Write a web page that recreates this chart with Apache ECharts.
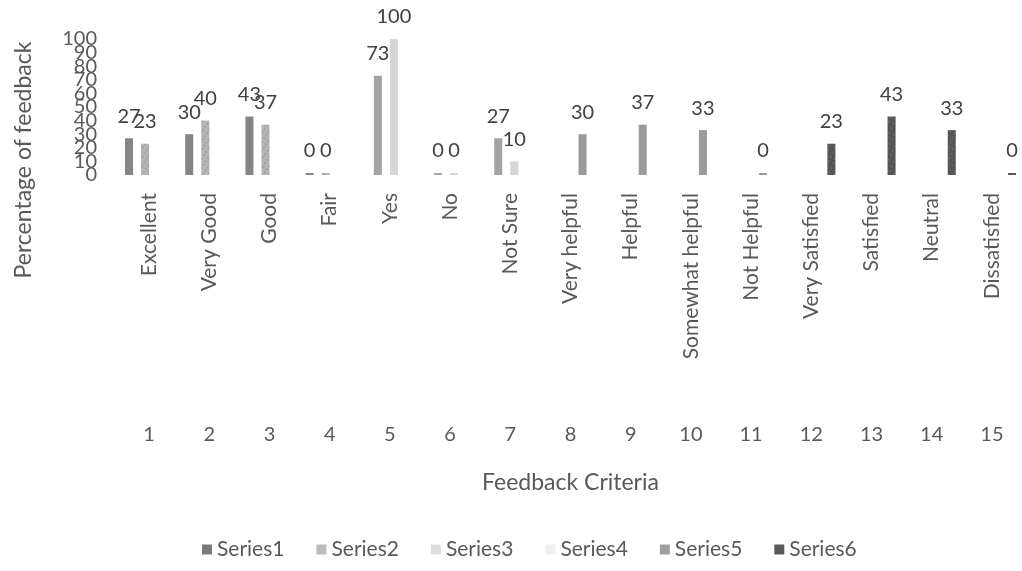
<!DOCTYPE html>
<html>
<head>
<meta charset="utf-8">
<script src="https://cdn.jsdelivr.net/npm/echarts@6/dist/echarts.min.js"></script>
<style>html,body{margin:0;padding:0;background:#fff;}#c{width:1022px;height:571px;}</style>
</head>
<body>
<div id="c"></div>
<script>
const categories = ["Excellent","Very Good","Good","Fair","Yes","No","Not Sure","Very helpful","Helpful","Somewhat helpful","Not Helpful","Very Satisfied","Satisfied","Neutral","Dissatisfied"];
const criteriaNumbers = ["1","2","3","4","5","6","7","8","9","10","11","12","13","14","15"];
const yTicks = {min: 0, max: 100, interval: 10};
const series1 = [27,30,43,0,null,null,null,null,null,null,null,null,null,null,null];
const series2 = [null,null,null,null,73,0,27,null,null,null,null,null,null,null,null];
const series3 = [23,40,37,0,null,null,null,null,null,null,null,null,null,null,null];
const series4 = [null,null,null,null,100,0,10,null,null,null,null,null,null,null,null];
const series5 = [null,null,null,null,null,null,null,30,37,33,0,null,null,null,null];
const series6 = [null,null,null,null,null,null,null,null,null,null,null,23,43,33,0];
const seriesNames = ["Series1","Series2","Series3","Series4","Series5","Series6"];
const seriesData = [series1,series2,series3,series4,series5,series6];

const FONT = 'Lato';
const colors = ['#858585','#a3a3a3','#b5b5b5','#d6d6d6','#9a9a9a','#555555'];
const legendColors = ['#7a7a7a','#bdbdbd','#dedede','#f0f0f0','#9e9e9e','#5a5a5a'];
const decals = [null, null,
  {symbol:'rect', symbolSize:0.5, color:'rgba(40,40,40,0.55)', dashArrayX:[2,3], dashArrayY:[2,2], rotation:0.6},
  null, null,
  {symbol:'rect', symbolSize:0.6, color:'rgba(200,200,200,0.5)', dashArrayX:[2,3], dashArrayY:[2,3], rotation:0.4}];

const yLabelStyle = {margin: 22, fontFamily: FONT, fontSize: 20, color: '#595959'};
const chart = echarts.init(document.getElementById('c'), null, {renderer:'canvas'});
const option = {
  backgroundColor: '#ffffff',
  animation: false,
  textStyle: {fontFamily: FONT},
  legend: {
    data: seriesNames.map((n, i) => ({name: n, itemStyle: {color: legendColors[i], decal: 'none'}})),
    bottom: 6,
    left: 197,
    icon: 'rect',
    itemWidth: 10,
    itemHeight: 10,
    itemGap: 32,
    textStyle: {fontFamily: FONT, fontSize: 21, color: '#595959'}
  },
  grid: {left: 119, right: 0, top: 39, bottom: 396, containLabel: false},
  xAxis: [
    {
      type: 'category',
      data: categories,
      position: 'bottom',
      axisLine: {show: false},
      axisTick: {show: false},
      axisLabel: {rotate: 90, margin: 18, fontFamily: FONT, fontSize: 21, color: '#595959', interval: 0}
    },
    {
      type: 'category',
      data: criteriaNumbers,
      position: 'bottom',
      offset: 250,
      axisLine: {show: false},
      axisTick: {show: false},
      axisLabel: {margin: 0, fontFamily: FONT, fontSize: 20, color: '#595959', interval: 0},
      name: 'Feedback Criteria',
      nameLocation: 'middle',
      nameGap: 46,
      nameTextStyle: {fontFamily: FONT, fontSize: 23, color: '#595959'}
    }
  ],
  yAxis: [
    {
      type: 'value',
      min: yTicks.min,
      max: yTicks.max,
      interval: yTicks.interval,
      position: 'left',
      axisLine: {show: false},
      axisTick: {show: false},
      splitLine: {show: false},
      axisLabel: Object.assign({showMinLabel: false, showMaxLabel: false}, yLabelStyle),
      name: 'Percentage of feedback',
      nameLocation: 'middle',
      nameGap: 84,
      nameTextStyle: {fontFamily: FONT, fontSize: 23, color: '#595959', padding: [0, 106, 0, 0]}
    },
    {
      type: 'value',
      min: yTicks.min,
      max: yTicks.max,
      interval: yTicks.interval,
      position: 'left',
      offset: 0,
      axisLine: {show: false},
      axisTick: {show: false},
      splitLine: {show: false},
      axisLabel: Object.assign({showMinLabel: true, showMaxLabel: true,
        formatter: v => (v === yTicks.min || v === yTicks.max) ? String(v) : ''}, yLabelStyle)
    }
  ],
  series: seriesNames.map((n, i) => ({
    name: n,
    type: 'bar',
    xAxisIndex: 0,
    yAxisIndex: 0,
    data: seriesData[i],
    barGap: '0%',
    barCategoryGap: '20%',
    barMinHeight: 2,
    itemStyle: {color: colors[i], decal: decals[i] || undefined},
    label: {show: true, position: 'top', distance: 12, fontFamily: FONT, fontSize: 20, color: '#404040'}
  }))
};
option.aria = {enabled: false, decal: {show: true}};
chart.setOption(option);
</script>
</body>
</html>
